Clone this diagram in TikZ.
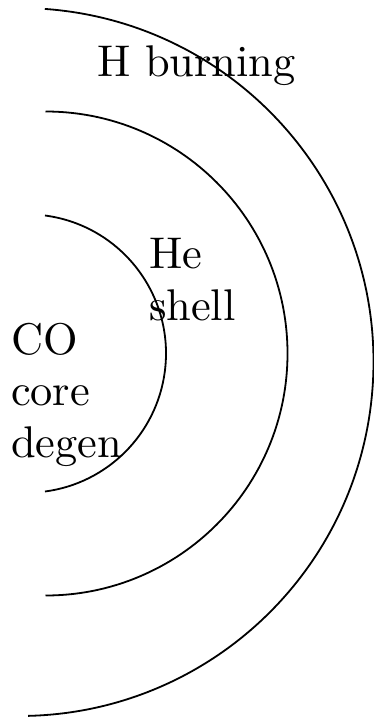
\documentclass[tikz,border=0pt]{standalone}
\usepackage{fontspec}
\setmainfont{lmroman10-regular.otf}
\begin{document}
\begin{tikzpicture}[x=1pt,y=-1pt,
  shellarc/.style={draw=black,line width=1.8pt},
  lbl/.style={inner sep=0pt,outer sep=0pt,anchor=base west,align=left,
    font=\fontsize{44.4pt}{51.5pt}\selectfont}]
\useasboundingbox (0,0) rectangle (374,717);
% centres of the shells
\coordinate (cin) at (26.8,353.5);
\coordinate (cmid) at (45.5,353.5);
\coordinate (cout) at (19.5,362);
% shells
\draw[shellarc] (cin) ++(-82.5:139.2) arc[start angle=-82.5,end angle=82.5,radius=139.2];
\draw[shellarc] (cmid) ++(-90:242) arc[start angle=-90,end angle=90,radius=242];
\draw[shellarc] (cout) ++(-85.9:354) arc[start angle=-85.9,end angle=88.6,radius=354];
% labels (base anchor = baseline of last line)
\node[lbl] (hburn) at (97,77) {H burning};
\node[lbl] (he) at (149,320) {He\\shell};
\node[lbl] (co) at (11,457) {CO\\core\\degen};
\end{tikzpicture}
\end{document}
